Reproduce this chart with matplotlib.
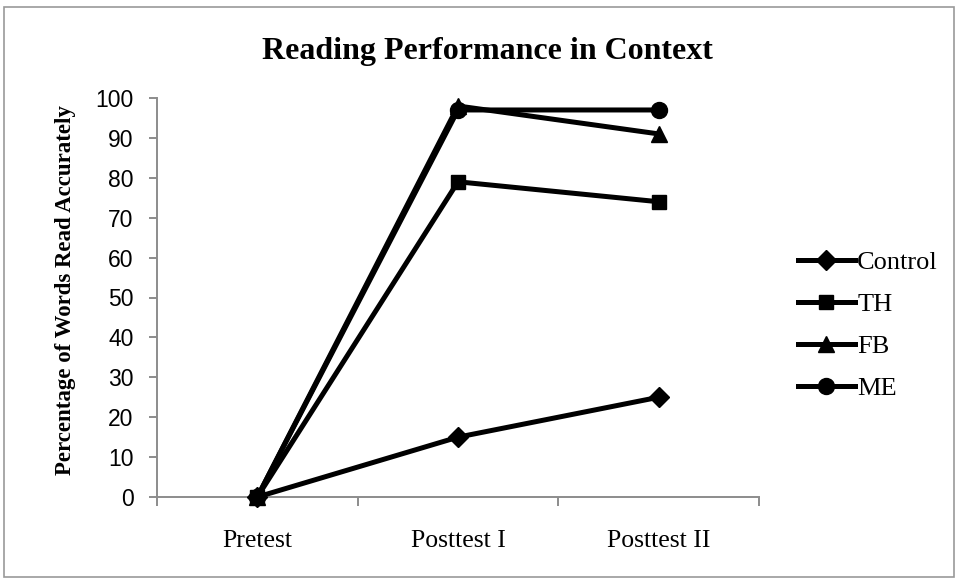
import matplotlib
matplotlib.use("Agg")
import matplotlib.pyplot as plt
from matplotlib.patches import Rectangle

categories = ["Pretest", "Posttest I", "Posttest II"]
series_names = ["Control", "TH", "FB", "ME"]
control = [0, 15, 25]
th = [0, 79, 74]
fb = [0, 98, 91]
me = [0, 97, 97]
markers = ["D", "s", "^", "o"]
y_ticks = [0, 10, 20, 30, 40, 50, 60, 70, 80, 90, 100]

W, H = 958, 580
fig = plt.figure(figsize=(W / 100, H / 100), dpi=100)
L, R, T, B = 157, 759, 98, 497
ax = fig.add_axes([L / W, 1 - B / H, (R - L) / W, (B - T) / H])

serif = ["Liberation Serif", "DejaVu Serif"]
sans = ["Liberation Sans", "DejaVu Sans"]
msizes = {"D": 10, "s": 10.5, "^": 11.5, "o": 11.5}

x = list(range(len(categories)))
for name, vals, m in zip(series_names, [control, th, fb, me], markers):
    ax.plot(x, vals, color="black", lw=3.6, marker=m, markersize=msizes[m],
            markerfacecolor="black", markeredgecolor="black", label=name,
            solid_joinstyle="round", clip_on=False, zorder=3)

ax.set_xlim(-0.5, 2.5)
ax.set_ylim(0, 100)
ax.set_yticks(y_ticks)
ax.set_yticklabels([str(v) for v in y_ticks], fontfamily=sans, fontsize=16.5)
ax.set_xticks([-0.5, 0.5, 1.5, 2.5])
ax.set_xticklabels([])
ax.set_xticks(x, minor=True)
ax.set_xticklabels(categories, minor=True, fontfamily=serif, fontsize=18.5)
ax.tick_params(axis="x", which="minor", length=0, pad=24)
ax.tick_params(axis="x", which="major", length=6.5, direction="out",
               color="#8c8c8c", width=1.4)
ax.tick_params(axis="y", length=6, direction="out", color="#8c8c8c",
               width=1.4, pad=11)

for s in ["top", "right"]:
    ax.spines[s].set_visible(False)
for s in ["left", "bottom"]:
    ax.spines[s].set_color("#8c8c8c")
    ax.spines[s].set_linewidth(1.4)

fig.text(66 / W, 1 - 290 / H, "Percentage of Words Read Accurately",
         rotation=90, ha="center", va="center", fontfamily=serif,
         fontweight="bold", fontsize=16.5)
fig.text(487 / W, 1 - 52 / H, "Reading Performance in Context", ha="center",
         va="center", fontfamily=serif, fontweight="bold", fontsize=23)

leg = ax.legend(loc="center left", bbox_to_anchor=(798 / W, 1 - 325.5 / H),
                bbox_transform=fig.transFigure, frameon=False,
                prop={"family": serif, "size": 19}, handlelength=2.15,
                handletextpad=0.1, labelspacing=0.7, borderaxespad=0,
                borderpad=0)

fig.patches.append(Rectangle((4 / W, 3 / H), 1 - 8 / W, 1 - 10 / H,
                             transform=fig.transFigure, fill=False,
                             edgecolor="#999999", lw=1.2))

fig.savefig("out.png", dpi=100)
